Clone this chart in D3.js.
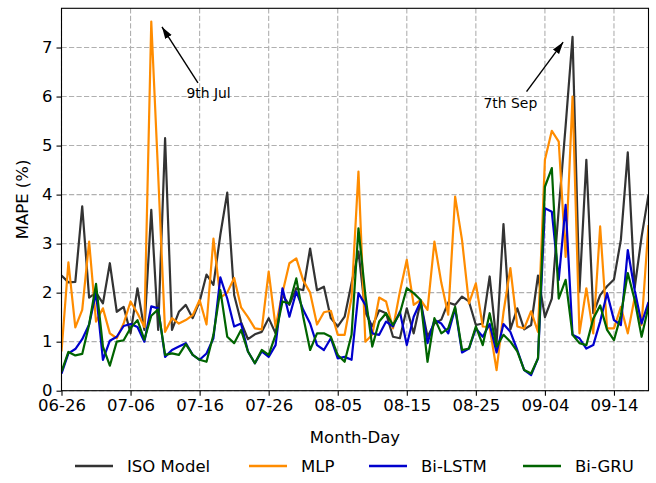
<!DOCTYPE html>
<html>
<head>
<meta charset="utf-8">
<script src="https://cdn.jsdelivr.net/npm/d3@7"></script>
<style>
  html, body { margin: 0; padding: 0; background: #fff; }
  svg { display: block; font-family: "DejaVu Sans", sans-serif; }
</style>
</head>
<body>
<svg id="chart" width="656" height="483"></svg>
<script>
// ---- data ----
const startDate = "2021-06-26";
const tickLabels = ["06-26","07-06","07-16","07-26","08-05","08-15","08-25","09-04","09-14"];
const seriesNames = ["ISO Model","MLP","Bi-LSTM","Bi-GRU"];
const seriesColors = ["#333333","#ff8c00","#0000cd","#006400"];

const isoModel = [2.35,2.21,2.22,3.76,1.90,2.00,1.78,2.60,1.61,1.71,1.17,2.09,1.24,3.69,1.24,5.15,1.24,1.61,1.75,1.48,
  1.82,2.37,2.16,3.18,4.04,1.95,1.40,1.05,1.15,1.20,1.48,1.17,1.95,1.75,2.09,2.05,2.90,2.05,2.12,1.48,
  1.31,1.51,2.19,2.84,1.60,1.31,1.64,1.58,1.10,1.07,1.68,1.17,1.82,1.10,1.37,1.45,1.80,1.75,1.92,1.82,
  1.34,1.37,2.33,0.97,3.40,1.25,1.68,1.25,1.34,2.35,1.50,1.88,3.70,5.40,7.22,2.02,4.71,1.58,1.95,2.13,
  2.27,3.08,4.86,2.10,3.14,4.00];
const mlp = [0.80,2.62,1.29,1.65,3.04,1.41,1.68,1.17,1.07,1.37,1.82,1.58,1.30,7.53,4.40,1.20,1.48,1.37,1.44,1.54,
  1.85,1.35,3.10,1.90,2.00,2.30,1.70,1.50,1.27,1.25,2.43,1.30,2.00,2.60,2.70,2.25,2.00,1.35,1.60,1.63,
  1.14,1.14,1.90,4.47,1.00,1.14,1.90,1.82,1.27,2.02,2.67,1.75,1.85,1.65,3.04,2.20,1.55,3.96,3.07,1.78,
  2.19,1.31,1.30,0.42,1.60,2.50,1.31,1.27,1.62,1.20,4.71,5.30,5.08,2.73,6.00,1.17,2.09,1.17,3.35,1.27,
  1.27,1.71,1.17,1.90,1.34,3.38];
const biLstm = [0.35,0.76,0.85,1.05,1.35,2.00,0.63,1.02,1.10,1.32,1.36,1.30,1.00,1.72,1.68,0.69,0.83,0.90,0.97,0.73,
  0.63,0.76,1.07,2.31,1.88,1.31,1.37,0.80,0.56,0.80,0.69,0.93,2.09,1.51,2.02,1.65,1.37,0.93,0.83,1.07,
  0.66,0.69,0.63,1.99,1.75,1.17,1.14,1.41,1.31,1.61,0.93,1.51,1.82,0.97,1.44,1.37,1.17,1.68,0.78,0.86,
  1.27,1.10,1.36,0.78,1.36,1.20,0.83,0.42,0.32,0.66,3.72,3.65,2.26,3.79,1.14,1.07,0.86,0.93,1.41,1.99,
  1.44,1.34,2.87,2.05,1.37,1.81];
const biGru = [0.39,0.79,0.72,0.75,1.35,2.18,0.90,0.51,1.00,1.03,1.28,1.44,1.04,1.53,1.66,0.73,0.76,0.73,0.95,0.73,
  0.63,0.59,1.14,2.05,1.10,0.97,1.24,0.80,0.56,0.83,0.73,1.14,1.82,1.78,2.29,1.51,0.83,1.17,1.17,1.10,
  0.73,0.59,1.14,3.31,1.95,0.90,1.41,1.58,1.34,1.58,2.09,1.99,1.85,0.59,1.48,1.17,1.27,1.71,0.83,0.86,
  1.31,0.93,1.58,0.90,1.14,1.00,0.80,0.42,0.35,0.66,4.16,4.54,1.88,2.26,1.14,0.97,0.93,1.47,1.74,1.24,
  1.03,1.54,2.40,1.85,1.10,1.72];
const yTicks = [0,1,2,3,4,5,6,7];
// annotation anchors in data units (days after start, MAPE value)
const annotations = [
  {text: "9th Jul", headDay: 14.55, headValue: 7.42, tailDay: 19.76, tailValue: 6.28, textDay: 21.3, textValue: 5.97},
  {text: "7th Sep", headDay: 72.64, headValue: 7.11, tailDay: 67.34, tailValue: 6.10, textDay: 65.0, textValue: 5.77}
];

// ---- layout ----
const svg = d3.select("#chart");
const margin = {left: 61.5, right: 656 - 648.5, top: 8.3, bottom: 483 - 390.7};
const W = 656, H = 483;
const iw = W - margin.left - margin.right, ih = H - margin.top - margin.bottom;

const parse = d3.utcParse("%Y-%m-%d");
const start = parse(startDate);
const allSeries = [isoModel, mlp, biLstm, biGru];
const nDays = isoModel.length;
const dates = d3.range(nDays).map(i => d3.utcDay.offset(start, i));
const year = startDate.slice(0, 4);
const tickDates = tickLabels.map(t => parse(year + "-" + t));
const dayToDate = d => new Date(start.getTime() + d * 864e5);

const x = d3.scaleUtc().domain([dates[0], dates[nDays - 1]]).range([0, iw]);
const y = d3.scaleLinear().domain([0, 7.8]).range([ih, 0]);

const g = svg.append("g").attr("transform", `translate(${margin.left},${margin.top})`);

const defs = svg.append("defs");
defs.append("clipPath").attr("id", "clip")
  .append("rect").attr("width", iw).attr("height", ih);

// grid
const gridStyle = sel => sel.attr("stroke", "#b0b0b0").attr("stroke-width", 1.1).attr("stroke-dasharray", "5.2,2.3");
const grid = g.append("g").attr("class", "grid");
grid.selectAll("line.h").data(yTicks).join("line")
  .attr("x1", 0).attr("x2", iw)
  .attr("y1", d => y(d)).attr("y2", d => y(d)).call(gridStyle);
grid.selectAll("line.v").data(tickDates).join("line")
  .attr("y1", 0).attr("y2", ih)
  .attr("x1", d => x(d)).attr("x2", d => x(d)).call(gridStyle);

// lines
const line = d3.line().x((d, i) => x(dates[i])).y(d => y(d));
const lines = g.append("g").attr("clip-path", "url(#clip)");
allSeries.forEach((s, k) => {
  lines.append("path").datum(s)
    .attr("d", line)
    .attr("fill", "none")
    .attr("stroke", seriesColors[k])
    .attr("stroke-width", 2.2)
    .attr("stroke-linejoin", "round")
    .attr("stroke-linecap", "butt");
});

// axes
const xAxis = d3.axisBottom(x).tickValues(tickDates).tickFormat(d3.utcFormat("%m-%d")).tickSize(5).tickPadding(4);
const yAxis = d3.axisLeft(y).tickValues(yTicks).tickFormat(d3.format("d")).tickSize(5).tickPadding(4);
const gx = g.append("g").attr("transform", `translate(0,${ih})`).call(xAxis);
const gy = g.append("g").call(yAxis);
[gx, gy].forEach(a => {
  a.select(".domain").remove();
  a.selectAll(".tick line").attr("stroke", "#000").attr("stroke-width", 1.1);
  a.selectAll(".tick text").attr("fill", "#000").style("font-size", "16.5px").style("font-family", "DejaVu Sans");
});

// frame
g.append("rect").attr("width", iw).attr("height", ih)
  .attr("fill", "none").attr("stroke", "#000").attr("stroke-width", 1.1);

// axis labels
svg.append("text").attr("x", margin.left + iw / 2).attr("y", 443)
  .attr("text-anchor", "middle").style("font-size", "16.5px").text("Month-Day");
svg.append("text").attr("transform", `translate(28,${margin.top + ih / 2}) rotate(-90)`)
  .attr("text-anchor", "middle").style("font-size", "16.5px").text("MAPE (%)");

// annotations
defs.append("marker").attr("id", "arrowhead")
  .attr("viewBox", "0 0 12 10").attr("refX", 12).attr("refY", 5)
  .attr("markerWidth", 12).attr("markerHeight", 10).attr("markerUnits", "userSpaceOnUse")
  .attr("orient", "auto")
  .append("path").attr("d", "M0,1.2 L12,5 L0,8.8 Z").attr("fill", "#000");
annotations.forEach(a => {
  g.append("line")
    .attr("x1", x(dayToDate(a.tailDay))).attr("y1", y(a.tailValue))
    .attr("x2", x(dayToDate(a.headDay))).attr("y2", y(a.headValue))
    .attr("stroke", "#000").attr("stroke-width", 1.4)
    .attr("marker-end", "url(#arrowhead)");
  g.append("text").attr("x", x(dayToDate(a.textDay))).attr("y", y(a.textValue))
    .attr("text-anchor", "middle").style("font-size", "13.9px").text(a.text);
});

// legend
const legendX = [75, 249, 369, 523];
const legend = svg.append("g");
seriesNames.forEach((n, k) => {
  legend.append("line").attr("x1", legendX[k]).attr("x2", legendX[k] + 38)
    .attr("y1", 466).attr("y2", 466)
    .attr("stroke", seriesColors[k]).attr("stroke-width", 2.6);
  legend.append("text").attr("x", legendX[k] + 52).attr("y", 472)
    .style("font-size", "16.5px").text(n);
});
</script>
</body>
</html>
